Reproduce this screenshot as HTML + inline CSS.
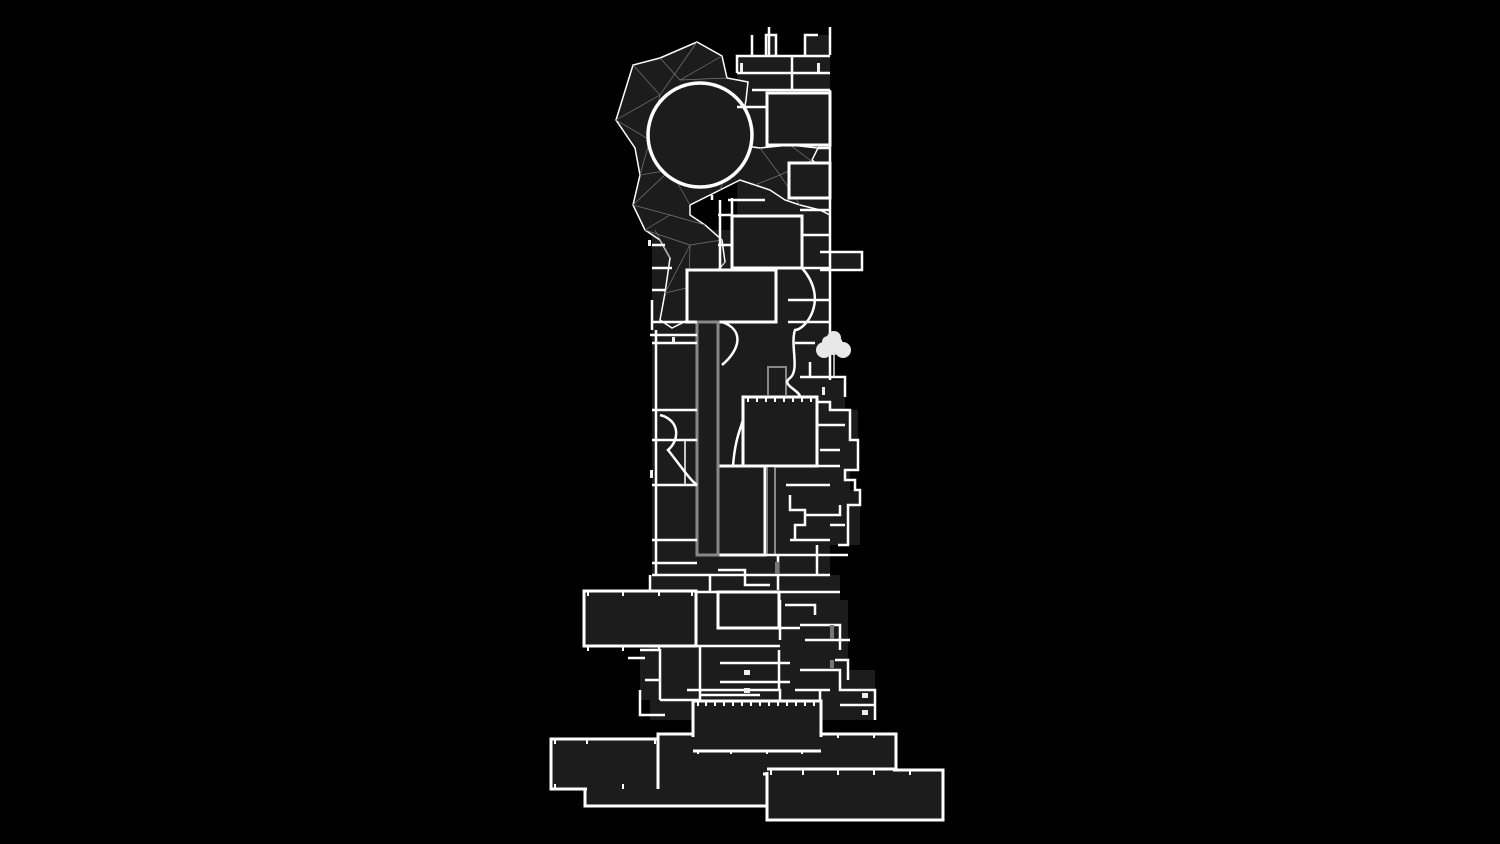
<!DOCTYPE html>
<html><head><meta charset="utf-8"><style>
html,body{margin:0;padding:0;background:#000;}
svg{display:block}
</style></head><body>
<svg width="1500" height="844" viewBox="0 0 1500 844" xmlns="http://www.w3.org/2000/svg">
<rect width="1500" height="844" fill="#000"/>
<g fill="#1c1c1c" stroke="none">
  <rect x="737" y="55" width="93" height="180"/>
  <rect x="652" y="230" width="178" height="350"/>
  <polygon points="800,380 845,380 845,410 858,410 858,470 850,470 850,490 860,490 860,545 830,545 830,575 800,575"/>
  <polygon points="650,575 840,575 840,600 848,600 848,670 875,670 875,720 650,720 650,700 640,700 640,650 650,650"/>
  <rect x="766" y="35" width="10" height="20"/>
  <rect x="805" y="35" width="25" height="20"/>
  <rect x="820" y="252" width="42" height="18"/>
</g>
<g fill="#1c1c1c" stroke="#fff" stroke-width="1.5">
  <polygon points="697,42 722,56 727,78 748,82 746,100 738,145 760,148 790,145 818,148 812,160 830,175 830,215 820,210 800,205 785,200 770,190 755,185 740,180 720,190 700,200 690,205 690,215 705,225 722,240 725,262 718,270 700,285 690,300 688,320 672,328 660,320 665,293 670,258 660,240 645,230 633,205 640,175 635,148 616,120 633,65 660,58"/>
</g>
<g stroke="#777" stroke-width="0.7" fill="none">
  <path d="M633,65 L660,95 L697,42 M660,58 L680,80 L722,56 M616,120 L650,140 L640,175 L670,170 L633,205 L670,215 L645,230 L690,245 L665,293 L700,285 M660,95 L616,120 M680,80 L727,78 M650,140 L660,95 M670,170 L690,205 M670,215 L705,225 M690,245 L722,240 M688,320 L690,245 M700,285 L725,262 M655,230 L670,258 M760,148 L780,175 L800,205 M780,175 L812,160 M780,175 L755,185 M790,145 L830,175 M738,145 L720,190"/>
</g>
<circle cx="700" cy="135" r="52" fill="#1c1c1c" stroke="#fff" stroke-width="3.5"/>
<g fill="#1c1c1c" stroke="#fff" stroke-width="3">
  <rect x="767" y="93" width="63" height="52"/>
  <rect x="789" y="163" width="41" height="35"/>
  <rect x="732" y="216" width="70" height="52"/>
  <rect x="687" y="270" width="89" height="52"/>
  <rect x="743" y="397" width="74" height="69"/>
  <rect x="718" y="466" width="47" height="89"/>
  <rect x="584" y="591" width="112" height="55"/>
  <rect x="718" y="592" width="61" height="36"/>
  <rect x="585" y="755" width="182" height="51"/>
  <rect x="658" y="734" width="238" height="40"/>
  <rect x="551" y="739" width="107" height="50"/>
  <rect x="693" y="701" width="128" height="50"/>
  <rect x="767" y="770" width="176" height="50"/>
</g>
<rect x="587" y="758" width="176" height="45" fill="#1c1c1c"/>
<rect x="661" y="737" width="232" height="35" fill="#1c1c1c"/>
<rect x="554" y="742" width="101" height="44" fill="#1c1c1c"/>
<rect x="770" y="773" width="170" height="44" fill="#1c1c1c"/>
<g fill="none" stroke="#fff" stroke-width="3">
  <path d="M658,734 V789 M693,751 H821 M585,789 V806 H767 M896,769 H767"/>
</g>
<!-- tick marks -->
<g stroke="#fff" stroke-width="2">
  <path d="M588,591 v5 M623,591 v5 M659,591 v5 M692,591 v5 M588,646 v5 M623,646 v5 M659,646 v5
  M555,739 v5 M587,739 v5 M655,739 v5 M555,789 v-5 M623,789 v-5
  M698,701 v5 M706,701 v5 M715,701 v5 M724,701 v5 M733,701 v5 M742,701 v5 M751,701 v5 M760,701 v5 M769,701 v5 M778,701 v5 M787,701 v5 M796,701 v5 M805,701 v5 M814,701 v5
  M698,751 v3 M731,751 v3 M767,751 v3 M802,751 v3 M838,734 v4 M874,734 v4
  M771,770 v5 M803,770 v5 M838,770 v5 M874,770 v5 M910,770 v5
  M748,397 v5 M757,397 v5 M766,397 v5 M775,397 v5 M784,397 v5 M793,397 v5 M802,397 v5 M811,397 v5"/>
</g>
<rect x="697" y="322" width="21" height="233" fill="#1c1c1c" stroke="#888" stroke-width="3"/>
<rect x="767" y="466" width="8" height="89" fill="#1c1c1c" stroke="#888" stroke-width="2"/>
<path d="M768,395 V367 H786 V395" fill="none" stroke="#888" stroke-width="2"/>
<g fill="none" stroke="#fff" stroke-width="2.5">
  <path d="M737,73 V56 H830 M737,73 H830 M752,90 H830 M737,107 H767"/>
  <path d="M766,55 V35 H776 V55 M769,27 V55 M805,55 V35 H818 M830,27 V55 M752,35 V55 M792,55 V90 M830,90 V235"/>
  <path d="M818,148 H830 M800,198 H830 M800,210 H830 M728,200 H765 M732,198 V216"/>
  <path d="M720,200 V270 M712,195 V200 M718,215 H732 M718,245 H732"/>
  <path d="M652,245 H665 M652,268 H672 M652,290 H665 M652,300 V330 M652,343 H697 M652,410 H697 M652,440 H697 M652,485 H697 M652,540 H697 M652,563 H697 M652,575 H830"/>
  <path d="M656,330 V575"/>
  <path d="M685,440 V485" stroke-width="1.5"/>
  <path d="M802,235 H830 M820,252 H862 V270 H820 M802,268 H830 M788,300 H830 M788,322 H830 M795,343 H815 M800,377 H845 V397"/>
  <path d="M830,235 V380 M810,362 V377"/>
  <path d="M802,268 C830,300 805,330 795,330 C790,345 800,370 790,378 C780,385 800,390 800,397" />
  <path d="M722,322 C745,330 740,350 722,365 M733,466 C735,440 740,430 743,420 M660,415 C680,420 680,440 668,450 C680,465 690,480 697,485"/>
  <path d="M817,397 V466 M817,402 H830 V410 H850 V440 H858 V470 H845 V480 H855 V490 H860 V505 H848 V545 H838 M817,425 H845 M820,450 H840 M817,466 H840 M765,466 H817"/>
  <path d="M786,485 H830 M790,495 V510 H805 V525 H795 V540 M790,540 H830 M830,525 H845 M805,515 H840 V505 M817,545 V575 M800,555 H848 M778,555 V590 M765,555 H800"/>
  <path d="M650,575 V590 M718,570 H745 V585 H770 M710,575 V592 M696,592 H718 M779,592 H840 M780,600 V640 M785,605 H815 V615 M800,625 H840 V650 M805,640 H850 M779,628 H800 M696,646 H700 V700 M700,646 H780 M720,663 H790 M720,682 H790 M779,650 V690 M800,670 H840 V690 H875 V720 M840,705 H875 M820,690 V701 M795,690 H830 M835,660 H848 V680"/>
  <path d="M640,650 H660 V700 M645,680 H660 M640,690 V715 H665 M628,658 H645 M660,700 H700 M687,690 H780 V700 M700,695 H760"/>
  <path d="M650,335 H697 M652,322 H697"/>
</g>
<g fill="#e8e8e8">
  <circle cx="833" cy="345" r="10"/><circle cx="824" cy="350" r="8"/><circle cx="843" cy="350" r="8"/><circle cx="834" cy="338" r="7"/><circle cx="828" cy="342" r="6"/>
</g>
<path d="M834,350 V377" stroke="#ddd" stroke-width="1.5"/>
<g fill="#eee">
  <rect x="817" y="63" width="3" height="9"/><rect x="740" y="63" width="3" height="9"/>
  <rect x="648" y="240" width="3" height="6"/><rect x="650" y="470" width="3" height="8"/>
  <rect x="672" y="337" width="3" height="6"/><rect x="822" y="387" width="3" height="8"/>
  <rect x="744" y="670" width="6" height="5"/><rect x="744" y="688" width="6" height="5"/>
  <rect x="862" y="693" width="6" height="5"/><rect x="862" y="710" width="6" height="5"/>
  <rect x="830" y="625" width="4" height="14" fill="#777"/>
  <rect x="830" y="660" width="4" height="8" fill="#777"/>
  <rect x="775" y="562" width="4" height="12" fill="#777"/>
</g>
</svg>
</body></html>
